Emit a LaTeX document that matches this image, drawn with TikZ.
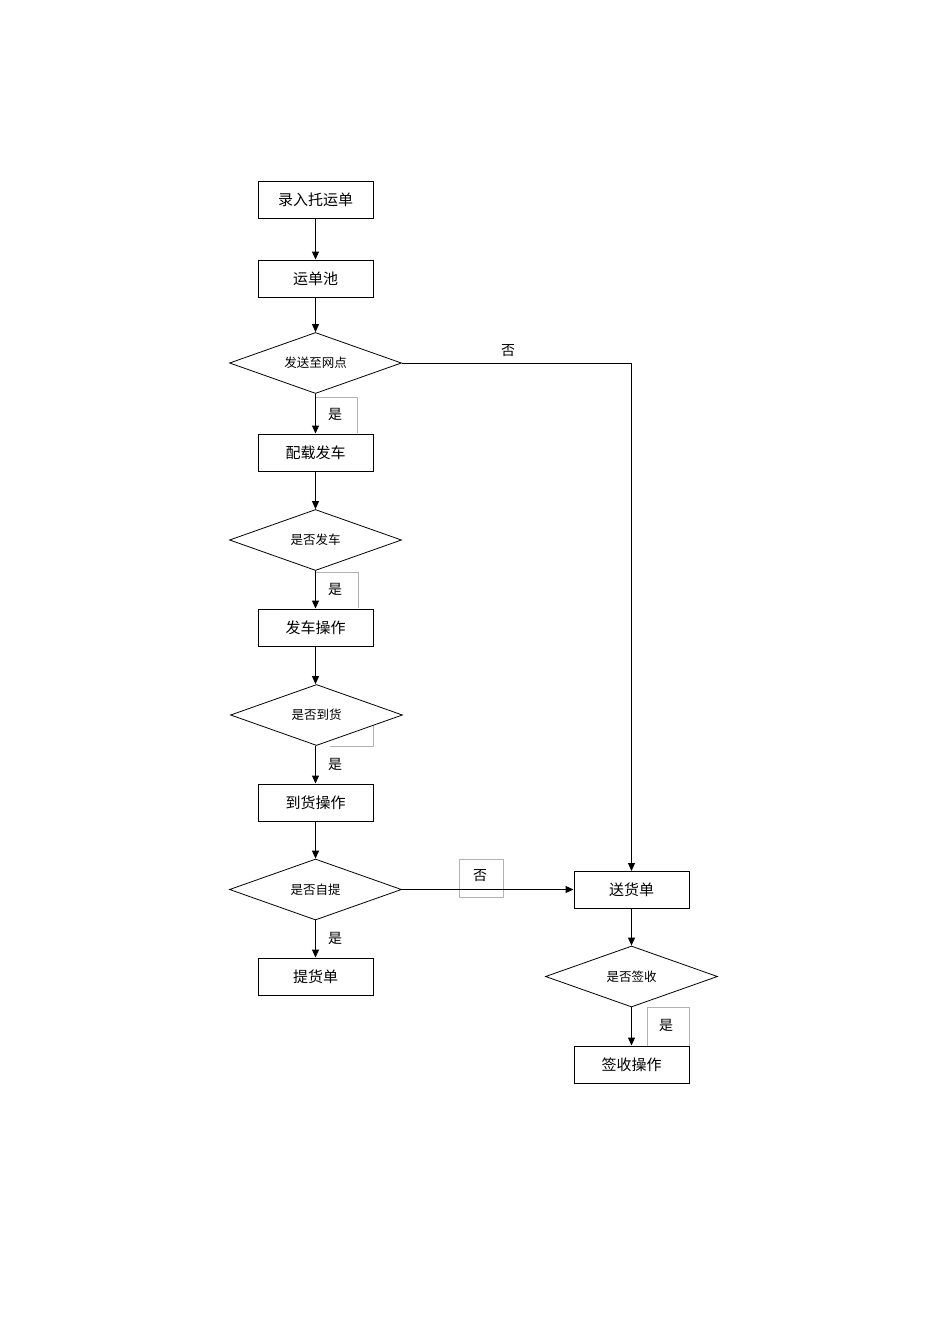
\documentclass[tikz,border=0pt]{standalone}
\usepackage{fontspec}
\setmainfont{Noto Sans CJK SC}
\usetikzlibrary{shapes.geometric,arrows.meta}
\begin{document}
\begin{tikzpicture}[x=1pt,y=-1pt,
  proc/.style={draw=black,fill=white,line width=1pt,minimum width=115pt,minimum height=37pt,inner sep=0pt,font=\fontsize{15}{15}\selectfont},
  dec/.style={draw=black,fill=white,line width=0.8pt,diamond,aspect=2.8,minimum width=172pt,minimum height=61pt,inner sep=0pt,font=\fontsize{12.5}{12.5}\selectfont},
  conn/.style={line width=1pt,-{Triangle[length=8pt,width=7pt]}},
  lbl/.style={font=\fontsize{14}{14}\selectfont,inner sep=0pt},
  lblbox/.style={draw=black!30,line width=0.6pt}]
\useasboundingbox (0,0) rectangle (950,1344);
% label frames
\draw[lblbox] (316,397) -- (357,397) -- (357,433);
\draw[lblbox] (316,572) -- (358,572) -- (358,608);
\draw[lblbox] (330,746) -- (373,746) -- (373,715);
\draw[lblbox] (459,859) rectangle (503,897);
\draw[lblbox] (647,1046) -- (647,1007) -- (689,1007) -- (689,1046);
% nodes
\node[proc] (a) at (315.5,199.5) {录入托运单};
\node[proc] (b) at (315.5,278.5) {运单池};
\node[dec]  (c) at (315.5,363) {发送至网点};
\node[proc] (d) at (315.5,452.5) {配载发车};
\node[dec]  (e) at (315.5,540) {是否发车};
\node[proc] (f) at (315.5,627.5) {发车操作};
\node[dec]  (g) at (316.5,715) {是否到货};
\node[proc] (h) at (315.5,802.5) {到货操作};
\node[dec]  (i) at (315.5,889.5) {是否自提};
\node[proc] (j) at (315.5,976.5) {提货单};
\node[proc] (k) at (631.5,890) {送货单};
\node[dec]  (l) at (631.5,976.5) {是否签收};
\node[proc] (m) at (631.5,1064.5) {签收操作};
\coordinate (cr) at (631.5,363);
% connectors
\draw[conn] (a) -- (b);
\draw[conn] (b) -- (c);
\draw[conn] (c) -- (d);
\draw[conn] (d) -- (e);
\draw[conn] (e) -- (f);
\draw[conn] (f) -- (g.north -| f);
\draw[conn] (g.south -| h) -- (h);
\draw[conn] (h) -- (i);
\draw[conn] (i) -- (j);
\draw[conn] (i.east) -- (i.east -| k.west);
\draw[conn] (c.east) -- (cr) -- (k);
\draw[conn] (k) -- (l);
\draw[conn] (l) -- (m);
% labels
\node[lbl] (y1) at (335,414) {是};
\node[lbl] (y2) at (335,589) {是};
\node[lbl] (y3) at (335,764) {是};
\node[lbl] (y4) at (335,938) {是};
\node[lbl] (y5) at (666,1025) {是};
\node[lbl] (n1) at (508,351) {否};
\node[lbl] (n2) at (480,876) {否};
\end{tikzpicture}
\end{document}
